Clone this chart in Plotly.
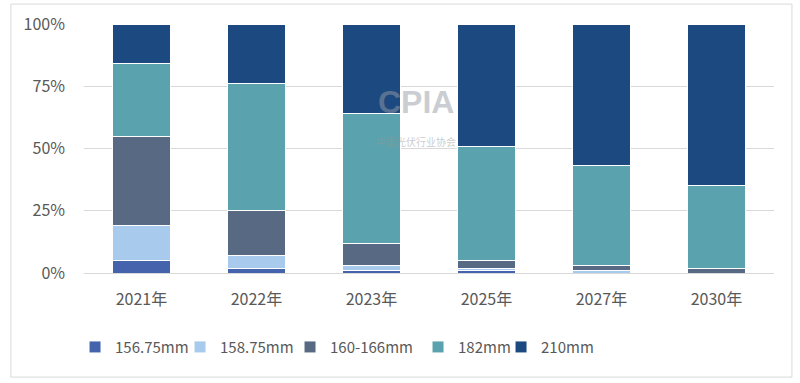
import plotly.graph_objects as go

years = ["2021年", "2022年", "2023年", "2025年", "2027年", "2030年"]
s156 = [5, 2, 1, 1, 0, 0]
s158 = [14, 5, 2, 1, 1, 0]
s160 = [36, 18, 9, 3, 2, 2]
s182 = [29, 51, 52, 46, 40, 33]
s210 = [16, 24, 36, 49, 57, 65]
ytick_vals = [0, 25, 50, 75, 100]
ytick_text = ["0%", "25%", "50%", "75%", "100%"]

series = [
    ("156.75mm", s156, "#4463AC", 60),
    ("158.75mm", s158, "#A8CAEC", 65),
    ("160-166mm", s160, "#576983", 83),
    ("182mm", s182, "#5AA2AD", 38),
    ("210mm", s210, "#1C4A80", 50),
]

fig = go.Figure()
for name, vals, color, lw in series:
    fig.add_trace(go.Bar(
        x=years, y=vals, name=name,
        marker=dict(color=color, line=dict(color="white", width=1)),
        width=0.5, legendwidth=lw,
    ))

fig.update_layout(
    barmode="stack",
    width=800, height=383,
    margin=dict(l=84, r=26, t=24, b=110, autoexpand=False),
    plot_bgcolor="white", paper_bgcolor="white",
    font=dict(family="Noto Sans CJK SC, Noto Sans, sans-serif", color="#595959", size=15),
    showlegend=True,
    legend=dict(orientation="h", x=-0.013, xanchor="left", y=-0.298, yanchor="middle",
                font=dict(size=15, color="#595959"), traceorder="normal",
                itemwidth=30),
)
fig.update_yaxes(range=[0, 100], tickvals=ytick_vals, ticktext=ytick_text,
                 showgrid=True, gridcolor="#D9D9D9", zeroline=False,
                 tickfont=dict(size=16, color="#595959"), ticks="",
                 showline=False, automargin=False, ticklabelstandoff=18)
fig.update_xaxes(showline=True, linecolor="#D9D9D9", tickfont=dict(size=16, color="#595959"),
                 ticks="", automargin=False, ticklabelstandoff=12)
fig.add_shape(type="rect", xref="paper", yref="paper", x0=-0.106, x1=1.026, y0=-0.418, y1=1.080,
              line=dict(color="#D9D9D9", width=1))
fig.add_annotation(text="<b>CPIA</b>", xref="paper", yref="paper", x=0.481, y=0.687,
                   xanchor="center", yanchor="middle",
                   showarrow=False, font=dict(size=32, color="rgba(150,155,165,0.5)",
                                              family="Liberation Sans, Arial, sans-serif"))
fig.add_annotation(text="中国光伏行业协会", xref="paper", yref="paper", x=0.481, y=0.53,
                   xanchor="center", yanchor="middle",
                   showarrow=False, font=dict(size=10, color="rgba(150,150,150,0.5)"))
fig.write_html("out.html", config={"displayModeBar": False},
               post_script="document.body.style.margin='0';document.body.style.overflow='hidden';")
